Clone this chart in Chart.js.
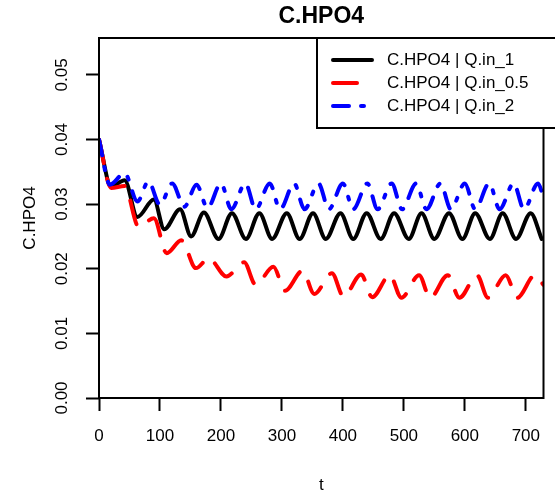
<!DOCTYPE html>
<html>
<head>
<meta charset="utf-8">
<script src="https://cdn.jsdelivr.net/npm/chart.js@4.4.0/dist/chart.umd.min.js"></script>
<style>
  html, body { margin: 0; padding: 0; background: #fff; }
</style>
</head>
<body>
<canvas id="hpo4" width="555" height="490"></canvas>
<script>
// turning points (t, C.HPO4)
const tQ1  = [0, 20, 42, 63, 90, 107, 133, 151, 172, 196, 218, 241, 263, 284, 308, 329, 351, 372, 396, 417, 439, 462, 484, 508, 529, 550, 574, 596, 617, 641, 662, 684, 708, 726];
const cQ1  = [0.0400, 0.0327, 0.0337, 0.0280, 0.0307, 0.0261, 0.0292, 0.0250, 0.0287, 0.0246,
              0.0286, 0.0246, 0.0286, 0.0246, 0.0286, 0.0246, 0.0286, 0.0246, 0.0286, 0.0246,
              0.0286, 0.0246, 0.0286, 0.0246, 0.0286, 0.0246, 0.0286, 0.0246, 0.0286, 0.0246,
              0.0286, 0.0246, 0.0286, 0.0246];

const tQ05 = [0, 20, 42, 65, 90, 111, 135, 159, 180, 209, 238, 257, 286, 305, 334, 353, 382, 401, 430, 448, 477, 496, 525, 543, 572, 591, 620, 638, 667, 686, 715, 729];
const cQ05 = [0.0400, 0.0325, 0.0328, 0.0265, 0.0278, 0.0224, 0.0244, 0.0201, 0.0216, 0.0188,
              0.0210, 0.0175, 0.0203, 0.0166, 0.0197, 0.0161, 0.0193, 0.0157, 0.0191, 0.0156,
              0.0190, 0.0155, 0.0190, 0.0155, 0.0190, 0.0155, 0.0190, 0.0155, 0.0190, 0.0155,
              0.0190, 0.0175];

const tQ2  = [0, 18, 42, 63, 81, 100, 120, 140, 160, 178, 200, 217, 240, 257, 280, 297, 320, 337, 360, 377, 400, 417, 440, 457, 480, 497, 520, 537, 560, 577, 600, 617, 640, 657, 680, 697, 720, 729];
const cQ2  = [0.0400, 0.0330, 0.0348, 0.0304, 0.0335, 0.0299, 0.0332, 0.0296, 0.0330, 0.0294,
              0.0332, 0.0292, 0.0332, 0.0292, 0.0332, 0.0292, 0.0332, 0.0292, 0.0332, 0.0292,
              0.0332, 0.0292, 0.0332, 0.0292, 0.0332, 0.0292, 0.0332, 0.0292, 0.0332, 0.0292,
              0.0332, 0.0292, 0.0332, 0.0292, 0.0332, 0.0292, 0.0332, 0.0310];

const seriesNames = ['C.HPO4 | Q.in_1', 'C.HPO4 | Q.in_0.5', 'C.HPO4 | Q.in_2'];
const seriesColors = ['#000000', '#ff0000', '#0000ff'];
const seriesDash = [[], [24, 16], [16, 12, 3, 12]];

const xTicks = [0, 100, 200, 300, 400, 500, 600, 700];
const yTicks = [0.00, 0.01, 0.02, 0.03, 0.04, 0.05];

const FONT = 'Liberation Sans, Arial, sans-serif';

function pts(t, c) {
  return t.map((v, i) => ({ x: v, y: c[i] }));
}

// box around plot area, like R's box()
const boxPlugin = {
  id: 'box',
  afterDatasetsDraw(chart) {
    const a = chart.chartArea;
    const ctx = chart.ctx;
    ctx.save();
    ctx.strokeStyle = '#000';
    ctx.lineWidth = 2;
    ctx.strokeRect(a.left, a.top, a.right - a.left, a.bottom - a.top);
    ctx.restore();
  }
};

// R-style legend box at top right
const legendPlugin = {
  id: 'rlegend',
  afterDraw(chart) {
    const ctx = chart.ctx;
    ctx.save();
    ctx.fillStyle = '#fff';
    ctx.fillRect(317, 38, 250, 90);
    ctx.strokeStyle = '#000';
    ctx.lineWidth = 2;
    ctx.strokeRect(317, 38, 250, 90);
    chart.data.datasets.forEach((ds, i) => {
      const y = 60 + i * 23;
      ctx.beginPath();
      ctx.setLineDash(seriesDash[i]);
      ctx.lineCap = 'round';
      ctx.lineWidth = 4;
      ctx.strokeStyle = ds.borderColor;
      ctx.moveTo(333, y);
      ctx.lineTo(372, y);
      ctx.stroke();
      ctx.setLineDash([]);
      ctx.fillStyle = '#000';
      ctx.font = '17px ' + FONT;
      ctx.textBaseline = 'middle';
      ctx.textAlign = 'left';
      ctx.fillText(ds.label, 387, y);
    });
    ctx.restore();
  }
};

// bold main title centred over plot area
const titlePlugin = {
  id: 'rtitle',
  afterDraw(chart) {
    const a = chart.chartArea;
    const ctx = chart.ctx;
    ctx.save();
    ctx.fillStyle = '#000';
    ctx.font = 'bold 23px ' + FONT;
    ctx.textAlign = 'center';
    ctx.textBaseline = 'middle';
    ctx.fillText('C.HPO4', (a.left + a.right) / 2, 17);
    ctx.restore();
  }
};

const ctx = document.getElementById('hpo4').getContext('2d');
new Chart(ctx, {
  type: 'line',
  data: {
    datasets: [
      { label: seriesNames[0], data: pts(tQ1, cQ1), borderColor: seriesColors[0], borderDash: seriesDash[0], order: 3 },
      { label: seriesNames[1], data: pts(tQ05, cQ05), borderColor: seriesColors[1], borderDash: seriesDash[1], order: 2 },
      { label: seriesNames[2], data: pts(tQ2, cQ2), borderColor: seriesColors[2], borderDash: seriesDash[2], order: 1 }
    ]
  },
  options: {
    responsive: false,
    animation: false,
    layout: { padding: { left: 0, right: 0, top: 38, bottom: 0 } },
    plugins: {
      legend: { display: false },
      title: { display: false },
      tooltip: { enabled: false }
    },
    elements: {
      point: { radius: 0 },
      line: {
        borderWidth: 4,
        fill: false,
        cubicInterpolationMode: 'monotone',
        borderCapStyle: 'round',
        borderJoinStyle: 'round'
      }
    },
    scales: {
      x: {
        type: 'linear',
        min: 0,
        max: 729,
        afterFit(s) { s.height = 92; },
        afterBuildTicks(s) { s.ticks = xTicks.map(v => ({ value: v })); },
        border: { display: false },
        grid: { drawOnChartArea: false, tickLength: 13, tickWidth: 2, tickColor: '#000' },
        ticks: {
          color: '#000',
          font: { family: FONT, size: 17 },
          padding: 15,
          maxRotation: 0,
          includeBounds: false,
          callback: v => String(v)
        },
        title: {
          display: true,
          text: 't',
          color: '#000',
          font: { family: FONT, size: 17 },
          padding: { top: 0, bottom: -6 }
        }
      },
      y: {
        type: 'linear',
        min: 0,
        max: 0.0557,
        afterFit(s) { s.width = 99; },
        afterBuildTicks(s) { s.ticks = yTicks.map(v => ({ value: v })); },
        border: { display: false },
        grid: { drawOnChartArea: false, tickLength: 13, tickWidth: 2, tickColor: '#000' },
        ticks: {
          color: '#000',
          font: { family: FONT, size: 17 },
          padding: 7,
          minRotation: 90,
          maxRotation: 90,
          crossAlign: 'center',
          includeBounds: false,
          callback: v => v.toFixed(2)
        },
        title: {
          display: true,
          text: 'C.HPO4',
          color: '#000',
          font: { family: FONT, size: 17 },
          padding: { top: 20, bottom: 0 }
        }
      }
    }
  },
  plugins: [boxPlugin, legendPlugin, titlePlugin]
});
</script>
</body>
</html>
